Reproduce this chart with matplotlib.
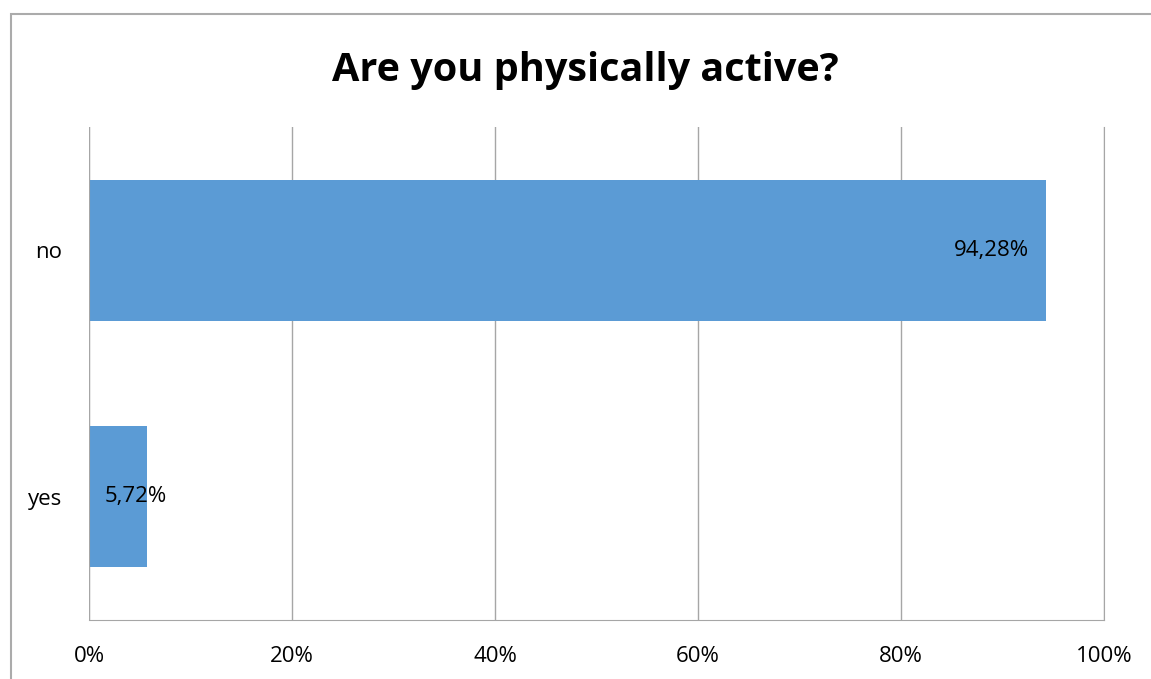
import matplotlib.pyplot as plt
from matplotlib.patches import Rectangle

categories = ['yes', 'no']
values = [5.72, 94.28]
labels = ['5,72%', '94,28%']
ticks = [0, 20, 40, 60, 80, 100]

plt.rcParams['font.family'] = ['Open Sans', 'DejaVu Sans']

fig = plt.figure(figsize=(11.51, 6.79), dpi=100)
fig.patches.append(Rectangle((11 / 1151, -0.1), 1.2, 1 - 14 / 679 + 0.1,
                             transform=fig.transFigure, fill=False,
                             edgecolor='#ababab', linewidth=1.5))

ax = fig.add_axes([89 / 1151, 1 - 620 / 679, 1015 / 1151, 493 / 679])
ax.barh(categories, values, height=0.57, color='#5b9bd5', zorder=3)
ax.set_xlim(0, 100)
ax.set_ylim(-0.5, 1.5)
ax.set_xticks(ticks)
ax.set_xticklabels([f'{t}%' for t in ticks], fontsize=16)
ax.tick_params(axis='y', labelsize=16, length=0, pad=19)
ax.tick_params(axis='x', length=0, pad=19)
ax.grid(axis='x', color='#a6a6a6', linewidth=1, zorder=0)
for s in ['top', 'left']:
    ax.spines[s].set_visible(False)
ax.spines['bottom'].set_color('#a6a6a6')
ax.spines['right'].set_color('#a6a6a6')
ax.axvline(0, color='#a6a6a6', linewidth=1.5, zorder=4)

ax.annotate(labels[1], (values[1], 1), xytext=(-12, 0), textcoords='offset points',
            ha='right', va='center', fontsize=16, zorder=5)
ax.annotate(labels[0], (0, 0), xytext=(11, 0), textcoords='offset points',
            ha='left', va='center', fontsize=16, zorder=5)

fig.text(585 / 1151, 1 - 70 / 679, 'Are you physically active?', ha='center', va='center',
         fontsize=28.5, fontweight='bold')

fig.savefig('out.png', dpi=100)
